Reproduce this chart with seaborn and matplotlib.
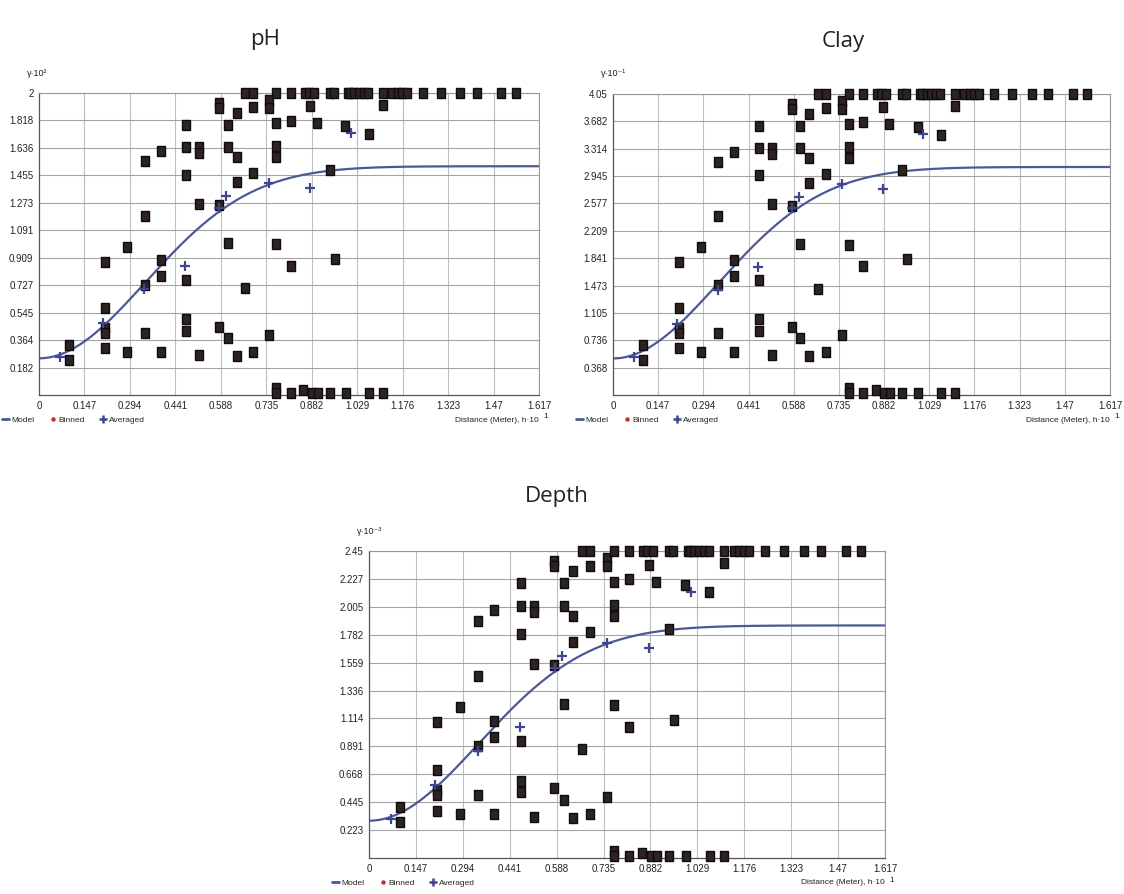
import numpy as np
import pandas as pd
import seaborn as sns
import matplotlib.pyplot as plt
from matplotlib.lines import Line2D

sns.set_theme(style="white")
plt.rcParams['font.family'] = ['Liberation Sans Narrow', 'Liberation Sans', 'DejaVu Sans']

# ---------------- data (pH panel units) ----------------
binned_x = [0.098, 0.098, 0.214, 0.214, 0.214, 0.214, 0.214, 0.286, 0.286,
            0.343, 0.343, 0.343, 0.343, 0.393, 0.393, 0.393, 0.393,
            0.476, 0.476, 0.476, 0.476, 0.476, 0.476, 0.516, 0.516, 0.516, 0.516,
            0.581, 0.581, 0.581, 0.581, 0.610, 0.610, 0.610, 0.610,
            0.639, 0.639, 0.639, 0.639, 0.667, 0.667, 0.693, 0.693, 0.693, 0.693,
            0.745, 0.745, 0.745, 0.768, 0.768, 0.768, 0.768, 0.768, 0.768, 0.768,
            0.814, 0.814, 0.814, 0.814, 0.860, 0.855, 0.878, 0.872, 0.889, 0.883,
            0.898, 0.901, 0.941, 0.941, 0.941, 0.956, 0.953, 0.993, 0.991, 0.999,
            1.005, 1.020, 1.035, 1.050, 1.065, 1.066, 1.068, 1.114, 1.114, 1.114,
            1.143, 1.160, 1.175, 1.190, 1.241, 1.299, 1.363, 1.415, 1.495, 1.542]
binned_ph = [0.331, 0.232, 0.884, 0.575, 0.442, 0.409, 0.309, 0.287, 0.983,
             1.547, 1.187, 0.729, 0.409, 1.613, 0.895, 0.789, 0.287,
             1.790, 1.642, 1.459, 0.762, 0.502, 0.427, 1.642, 1.602, 1.266, 0.265,
             1.934, 1.900, 1.255, 0.453, 1.790, 1.642, 1.006, 0.376,
             1.867, 1.576, 1.408, 0.259, 2.000, 0.707, 2.000, 1.905, 1.470, 0.287,
             1.956, 1.900, 0.398, 2.000, 1.801, 1.651, 1.576, 0.999, 0.044, 0.011,
             2.000, 1.817, 0.855, 0.011, 2.000, 0.030, 1.912, 2.000, 2.000, 0.011,
             1.801, 0.011, 2.000, 1.492, 0.011, 0.902, 2.000, 0.011, 1.779, 2.000,
             2.000, 2.000, 2.000, 2.000, 2.000, 1.730, 0.011, 2.000, 1.923, 0.011,
             2.000, 2.000, 2.000, 2.000, 2.000, 2.000, 2.000, 2.000, 2.000, 2.000]
averaged_x = [0.069, 0.208, 0.341, 0.473, 0.583, 0.606, 0.745, 0.878, 1.010]
averaged_ph = [0.254, 0.475, 0.700, 0.851, 1.240, 1.315, 1.403, 1.370, 1.735]

# Gaussian variogram model fitted in the reference (pH units)
model_nugget_ph = 0.243
model_sill_ph = 1.515
model_range = 0.485

x_tick_labels = ['0', '0.147', '0.294', '0.441', '0.588', '0.735', '0.882',
                 '1.029', '1.176', '1.323', '1.47', '1.617']
ph_ticks = ['0.182', '0.364', '0.545', '0.727', '0.909', '1.091', '1.273',
            '1.455', '1.636', '1.818', '2']
clay_ticks = ['0.368', '0.736', '1.105', '1.473', '1.841', '2.209', '2.577',
              '2.945', '3.314', '3.682', '4.05']
depth_ticks = ['0.223', '0.445', '0.668', '0.891', '1.114', '1.336', '1.559',
               '1.782', '2.005', '2.227', '2.45']

titles = ['pH', 'Clay', 'Depth']
y_units = ['γ·10²', 'γ·10⁻¹', 'γ·10⁻³']
tick_sets = [ph_ticks, clay_ticks, depth_ticks]

# ---------------- layout ----------------
W, H = 1124, 894
fig = plt.figure(figsize=(W / 100, H / 100), dpi=100)
fig.patch.set_facecolor('white')

def frac(l, t, r, b):
    return [l / W, 1 - b / H, (r - l) / W, (b - t) / H]

boxes = [frac(39, 93, 539, 395), frac(613, 94, 1110, 395), frac(369, 551, 885, 858)]
title_pos = [(265, 40), (843, 42), (557, 497)]

model_color = '#4b5a96'
avg_color = '#3e468f'
rect = [(-0.38, -0.5), (0.38, -0.5), (0.38, 0.5), (-0.38, 0.5), (-0.38, -0.5)]

xmax = float(x_tick_labels[-1])
for i in range(3):
    ax = fig.add_axes(boxes[i])
    ymax = float(tick_sets[i][-1])
    k = ymax / float(ph_ticks[-1])
    df_b = pd.DataFrame({'h': binned_x, 'g': np.array(binned_ph) * k})
    df_a = pd.DataFrame({'h': averaged_x, 'g': np.array(averaged_ph) * k})
    hh = np.linspace(0, xmax, 300)
    gg = (model_nugget_ph + (model_sill_ph - model_nugget_ph) *
          (1 - np.exp(-(hh / model_range) ** 2))) * k
    df_m = pd.DataFrame({'h': hh, 'g': gg})

    ax.set_xlim(0, xmax)
    ax.set_ylim(0, ymax)
    xt = [float(v) for v in x_tick_labels]
    yt = [float(v) for v in tick_sets[i]]
    for v in xt[1:]:
        ax.axvline(v, color='#bdbdbd', lw=0.8, zorder=0)
    for v in yt:
        ax.axhline(v, color='#a4a4a4', lw=0.8, zorder=0)

    sns.lineplot(data=df_m, x='h', y='g', ax=ax, color=model_color, lw=1.6,
                 legend=False, zorder=2)
    sns.scatterplot(data=df_b, x='h', y='g', ax=ax, marker=rect, s=58,
                    color='#2e2222', edgecolor='#0d0d0d', linewidth=1.0,
                    legend=False, zorder=3, clip_on=False)
    sns.scatterplot(data=df_a, x='h', y='g', ax=ax, marker='+', s=62,
                    color=avg_color, linewidth=1.6, legend=False, zorder=4,
                    clip_on=False)

    ax.set_xticks(xt)
    ax.set_xticklabels(x_tick_labels, fontsize=7, color='#222222')
    ax.set_yticks(yt)
    ax.set_yticklabels(tick_sets[i], fontsize=7, color='#222222')
    ax.tick_params(axis='x', length=0, pad=4)
    ax.tick_params(axis='y', length=0, pad=4)
    ax.set_xlabel('')
    ax.set_ylabel('')
    for s in ['left', 'bottom']:
        ax.spines[s].set_color('#555555')
        ax.spines[s].set_linewidth(0.9)
    for s in ['top', 'right']:
        ax.spines[s].set_color('#999999')
        ax.spines[s].set_linewidth(0.8)

    axh = boxes[i][3] * H
    axw = boxes[i][2] * W
    ax.text(-12 / axw, 1 + 20 / axh, y_units[i], transform=ax.transAxes,
            fontsize=6.5, ha='left', va='center', color='#222222')
    ax.text(1.0, -25 / axh, 'Distance (Meter), h·10', transform=ax.transAxes,
            fontsize=6, ha='right', va='center', color='#222222')
    ax.text(1.0 + 4 / axw, -22 / axh, '1', transform=ax.transAxes,
            fontsize=6, ha='left', va='center', color='#222222')

    handles = [Line2D([], [], color=model_color, lw=2),
               Line2D([], [], color='#c03030', marker='o', ls='none', ms=2.2),
               Line2D([], [], color=avg_color, marker='+', ls='none', ms=6, mew=1.8)]
    ax.legend(handles, ['Model', 'Binned', 'Averaged'], loc='center left',
              bbox_to_anchor=(-37 / axw, -25 / axh), ncol=3, frameon=False,
              fontsize=6, handlelength=0.8, handletextpad=0.3,
              columnspacing=1.8, borderaxespad=0, borderpad=0)

    fig.text(title_pos[i][0] / W, 1 - title_pos[i][1] / H, titles[i],
             fontsize=16, ha='center', va='center', color='#222222',
             family=['Open Sans', 'DejaVu Sans'])

fig.savefig('out.png', dpi=100, facecolor='white')
